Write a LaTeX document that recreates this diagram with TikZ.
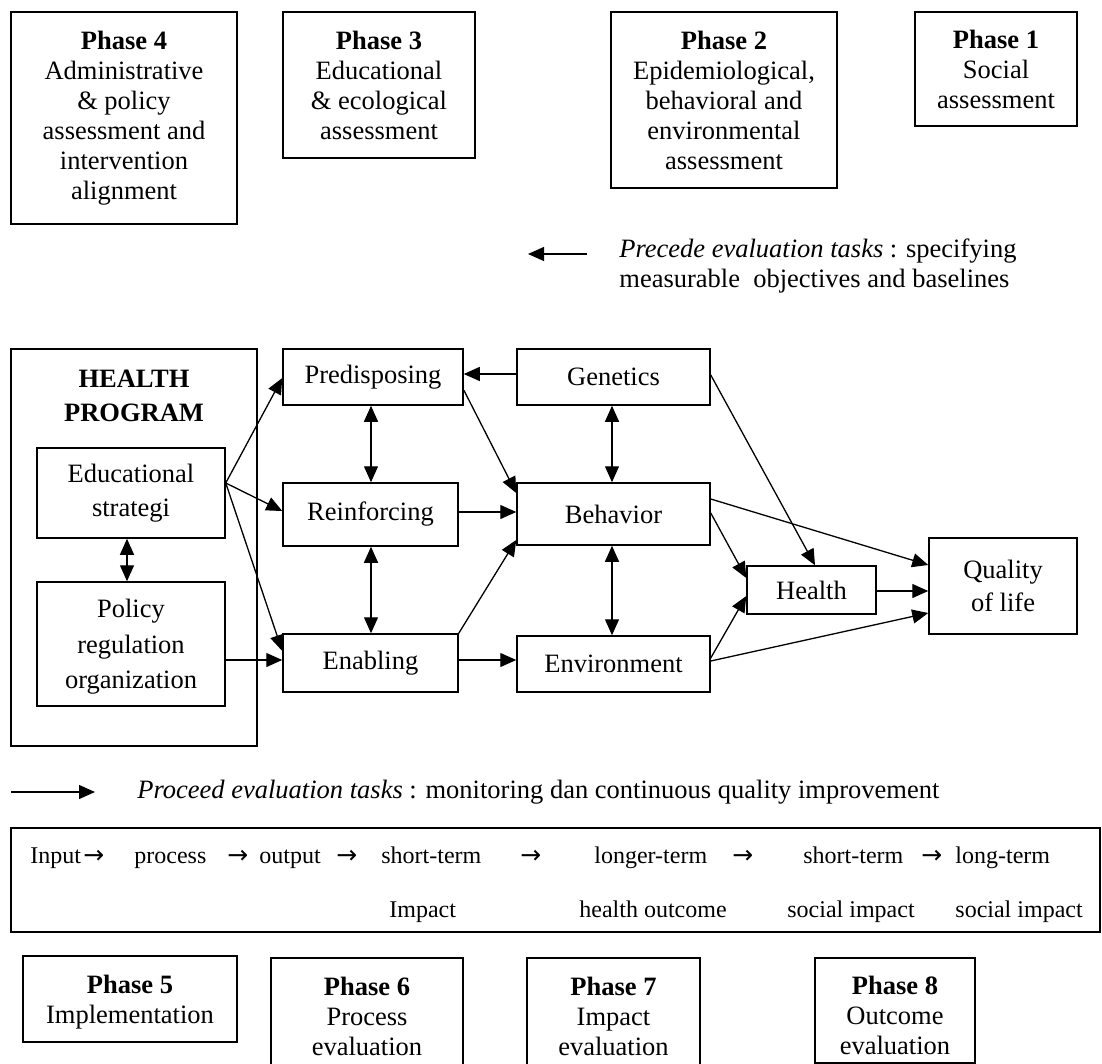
\documentclass[tikz,border=0pt]{standalone}
\usepackage{fontspec}
\setmainfont{Liberation Serif}
\newfontfamily\arrfont{DejaVu Sans}
\usetikzlibrary{arrows.meta}
\begin{document}
\begin{tikzpicture}[x=0.5pt,y=-0.5pt,
  every node/.style={font=\fontsize{13.25pt}{15pt}\selectfont},
  box/.style={draw, line width=0.75pt, inner sep=0pt, align=center},
  arr/.style={line width=0.65pt, -{Triangle[length=8pt,width=7pt]}},
  darr/.style={line width=0.65pt, {Triangle[length=8pt,width=7pt]}-{Triangle[length=8pt,width=7pt]}},
  rt/.style={anchor=base west, inner sep=0pt, font=\fontsize{12pt}{14pt}\selectfont},
  ra/.style={anchor=base west, inner sep=0pt, font=\arrfont\fontsize{12.5pt}{14pt}\selectfont}]
\useasboundingbox (0,0) rectangle (1102,1064);

% top phases
\node[box, minimum width=113pt, minimum height=106pt] (p4) at (124,118)
  {\textbf{Phase 4}\\Administrative\\\& policy\\assessment and\\intervention\\alignment};
\node[box, minimum width=96pt, minimum height=73pt] (p3) at (379,85)
  {\textbf{Phase 3}\\Educational\\\& ecological\\assessment};
\node[box, minimum width=113pt, minimum height=88pt] (p2) at (724,100)
  {\textbf{Phase 2}\\Epidemiological,\\behavioral and\\environmental\\assessment};
\node[box, minimum width=81pt, minimum height=57pt] (p1) at (996,69)
  {\textbf{Phase 1}\\Social\\assessment};

% precede legend
\coordinate (pretail) at (587,254);
\coordinate (pretip) at (528,254);
\draw[arr] (pretail) -- (pretip);
\node[anchor=west, align=left, inner sep=0pt] (pre) at (619,266)
  {\textit{Precede evaluation tasks} : specifying\\measurable~ objectives and baselines};

% health program
\node[box, minimum width=123pt, minimum height=198.5pt] (hp) at (134,547.5) {};
\node[align=center, inner sep=0pt, font=\fontsize{13.25pt}{17pt}\selectfont\bfseries] (hpt) at (134,396) {HEALTH\\PROGRAM};
\node[box, minimum width=94pt, minimum height=45pt, font=\fontsize{13.25pt}{17pt}\selectfont] (edu) at (131,493) {Educational\\strategi};
\node[box, minimum width=94pt, minimum height=62pt] (pol) at (131,644) {};
\node[align=center, inner sep=0pt, font=\fontsize{13.25pt}{17.75pt}\selectfont] (polt) at (131,647) {Policy\\regulation\\organization};

% determinants
\node[box, minimum width=90pt, minimum height=28pt] (pred) at (373,377) {Predisposing};
\node[box, minimum width=87.5pt, minimum height=31.5pt] (reinf) at (370.5,514.5) {Reinforcing};
\node[box, minimum width=87.5pt, minimum height=29pt] (enab) at (370.5,663) {Enabling};
\node[box, minimum width=96.5pt, minimum height=28pt] (gen) at (613.5,377) {Genetics};
\node[box, minimum width=96.5pt, minimum height=31pt] (beh) at (613.5,514) {Behavior};
\node[box, minimum width=96.5pt, minimum height=28pt] (env) at (613.5,664) {Environment};
\node[box, minimum width=64.5pt, minimum height=24pt] (health) at (811.5,590) {Health};
\node[box, minimum width=74pt, minimum height=48pt, font=\fontsize{13.25pt}{16.5pt}\selectfont] (qol) at (1003,586) {Quality\\of life};

% connectors
\draw[arr] (edu.east |- 0,483) -- (pred.west |- 0,378);
\draw[arr] (edu.east |- 0,483) -- (reinf.west |- 0,511);
\draw[arr] (edu.east |- 0,483) -- (enab.west |- 0,651);
\draw[arr] (pol.east |- 0,660) -- (enab.west |- 0,660);
\draw[darr] (edu.south -| 127,0) -- (pol.north -| 127,0);
\draw[darr] (pred.south -| 371,0) -- (reinf.north -| 371,0);
\draw[darr] (reinf.south -| 371,0) -- (enab.north -| 371,0);
\draw[arr] (gen.west |- 0,374) -- (pred.east |- 0,374);
\draw[arr] (pred.east |- 0,390) -- (beh.west |- 0,493);
\draw[arr] (reinf.east |- 0,512) -- (beh.west |- 0,512);
\draw[arr] (enab.north east) -- (beh.west |- 0,540);
\draw[arr] (enab.east |- 0,660) -- (env.west |- 0,660);
\draw[darr] (gen.south -| 612,0) -- (beh.north -| 612,0);
\draw[darr] (beh.south -| 612,0) -- (env.north -| 612,0);
\draw[arr] (gen.east |- 0,375) -- (health.north -| 815,0);
\draw[arr] (beh.east |- 0,499) -- (qol.west |- 0,565);
\draw[arr] (beh.east |- 0,513) -- (health.west |- 0,578);
\draw[arr] (env.east |- 0,658) -- (health.west |- 0,596);
\draw[arr] (env.east |- 0,661) -- (qol.west |- 0,613);
\draw[arr] (health.east |- 0,591) -- (qol.west |- 0,591);

% proceed legend
\coordinate (protail) at (11,792);
\coordinate (protip) at (95,792);
\draw[arr] (protail) -- (protip);
\node[anchor=base west, inner sep=0pt] (pro) at (137,798) {\textit{Proceed evaluation tasks} : monitoring dan continuous quality improvement};

% evaluation chain
\node[box, minimum width=544.5pt, minimum height=52pt] (chain) at (555.5,880) {};
\node[rt] (c1) at (30,863) {Input};
\node[ra] (a1) at (83,863) {→};
\node[rt] (c2) at (134,863) {process};
\node[ra] (a2) at (227,863) {→};
\node[rt] (c3) at (259,863) {output};
\node[ra] (a3) at (336,863) {→};
\node[rt] (c4) at (381,863) {short-term};
\node[ra] (a4) at (520,863) {→};
\node[rt] (c5) at (594,863) {longer-term};
\node[ra] (a5) at (732,863) {→};
\node[rt] (c6) at (803,863) {short-term};
\node[ra] (a6) at (921,863) {→};
\node[rt] (c7) at (955,863) {long-term};
\node[rt] (d4) at (389,917) {Impact};
\node[rt] (d5) at (579,917) {health outcome};
\node[rt] (d6) at (787,917) {social impact};
\node[rt] (d7) at (955,917) {social impact};

% bottom phases
\node[box, minimum width=107pt, minimum height=43pt] (p5) at (130,999) {};
\node[align=center, inner sep=0pt] (p5t) at (130,1002) {\textbf{Phase 5}\\Implementation};
\node[box, minimum width=96pt, minimum height=58pt] (p6) at (367,1016)
  {\textbf{Phase 6}\\Process\\evaluation};
\node[box, minimum width=86.5pt, minimum height=58pt] (p7) at (613.5,1016)
  {\textbf{Phase 7}\\Impact\\evaluation};
\node[box, minimum width=80pt, minimum height=52.5pt] (p8) at (895,1010.5) {};
\node[align=center, inner sep=0pt] (p8t) at (895,1015)
  {\textbf{Phase 8}\\Outcome\\evaluation};
\end{tikzpicture}
\end{document}
